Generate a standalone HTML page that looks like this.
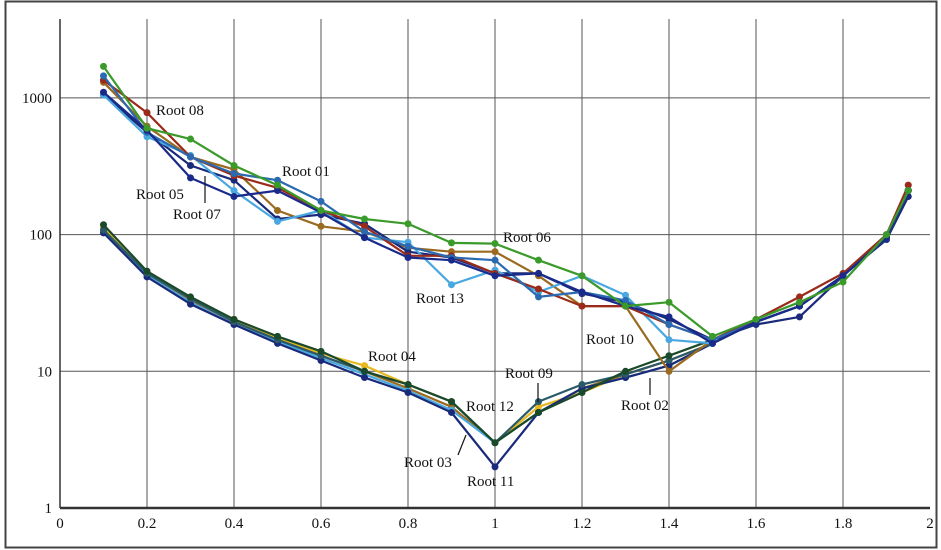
<!DOCTYPE html>
<html><head><meta charset="utf-8"><style>
html,body{margin:0;padding:0;background:#fff;width:941px;height:550px;overflow:hidden}
svg text{font-family:"Liberation Serif",serif;font-size:15px;fill:#111}
</style></head><body>
<svg id="s" width="941" height="550" xmlns="http://www.w3.org/2000/svg">
<rect x="5.5" y="1.5" width="931" height="546" fill="#fff" stroke="#444" stroke-width="2"/>
<g id="grid"></g><g id="data"></g>
<g>
<text x="282" y="176">Root 01</text>
<text x="156" y="115">Root 08</text>
<text x="136" y="199">Root 05</text>
<text x="173" y="219">Root 07</text>
<line x1="205" y1="176" x2="205" y2="203" stroke="#111" stroke-width="1.2"/>
<text x="503" y="242">Root 06</text>
<text x="416" y="303">Root 13</text>
<text x="586" y="344">Root 10</text>
<text x="368" y="361">Root 04</text>
<text x="505" y="378">Root 09</text>
<line x1="538" y1="383" x2="538" y2="402" stroke="#111" stroke-width="1.2"/>
<text x="466" y="411">Root 12</text>
<text x="621" y="410">Root 02</text>
<line x1="650" y1="378" x2="650" y2="395" stroke="#111" stroke-width="1.2"/>
<text x="404" y="467">Root 03</text>
<line x1="458" y1="455" x2="466" y2="435" stroke="#111" stroke-width="1.2"/>
<text x="467" y="486">Root 11</text>
</g>
</svg>
<script>
var NS="http://www.w3.org/2000/svg";
function X(v){return 60+v*435;}
function Y(v){return 508-136.7*Math.log10(v);}
var g=document.getElementById("grid"),d=document.getElementById("data");
function el(p,t,a){var e=document.createElementNS(NS,t);for(var k in a)e.setAttribute(k,a[k]);p.appendChild(e);return e;}
for(var i=1;i<=9;i++){var x=X(i*0.2);el(g,"line",{x1:x,y1:19,x2:x,y2:508,stroke:"#555","stroke-width":1});}
[10,100,1000].forEach(function(v){el(g,"line",{x1:60,y1:Y(v),x2:930,y2:Y(v),stroke:"#555","stroke-width":1});});
el(g,"line",{x1:60,y1:19,x2:60,y2:508,stroke:"#333","stroke-width":1.5});
el(g,"line",{x1:60,y1:508,x2:930,y2:508,stroke:"#333","stroke-width":2.5});
[["1000",1000],["100",100],["10",10],["1",1]].forEach(function(a){var t=el(g,"text",{x:52,y:Y(a[1])+5,"text-anchor":"end"});t.textContent=a[0];});
["0","0.2","0.4","0.6","0.8","1","1.2","1.4","1.6","1.8","2"].forEach(function(s,i){var t=el(g,"text",{x:X(i*0.2),y:528,"text-anchor":"middle"});t.textContent=s;});
var xs=[0.1,0.2,0.3,0.4,0.5,0.6,0.7,0.8,0.9,1.0,1.1,1.2,1.3,1.4,1.5,1.6,1.7,1.8,1.9,1.95];
var tail=[23,30,50,95,210];
var up=[
["#9a6a20",[1300,620,370,300,150,115,105,80,75,75,50,30,30,10,17]],
["#1a2a7a",[1050,560,320,250,130,140,120,75,68,52,52,37,32,24,17],[22,25,50,92,190]],
["#4aa8e0",[1050,520,380,210,125,150,95,88,43,55,38,50,36,17,16]],
["#9a2a1a",[1350,780,370,270,220,150,115,70,70,52,40,30,30,22,17],[24,35,52,100,230]],
["#2a6ab0",[1450,560,370,280,250,175,105,82,68,65,35,38,33,22,17]],
["#1a2a8a",[1100,580,260,190,210,145,95,68,65,50,52,38,30,25,16]],
["#3a9a2a",[1700,600,500,320,230,150,130,120,87,86,65,50,30,32,18],[24,32,45,100,210]]
];
var lo=[
["#e8b820",[112,52,34,24,17.5,13.5,11,8,6,3,5.5,7,9.5,12,16]],
["#9a6a20",[108,51,33,23,17,13,10,7.5,5.5,3,5,7.5,9.5,12,16]],
["#4aa8e0",[105,50,32,22,16.5,12.5,9.5,7.2,5.2,3,5,7.5,9,11,16]],
["#1a2a7a",[103,49,31,22,16,12,9,7,5,2,5,7.5,9,11,16]],
["#2a5a6a",[108,52,34,23,17,13,10,8,6,3,6,8,9.5,12,16]],
["#1a4a2a",[118,54,35,24,18,14,10,8,6,3,5,7,10,13,17]]
];
function draw(c,v,t){t=t||tail;var all=v.concat(t);var p=all.map(function(y,i){return X(xs[i]).toFixed(1)+","+Y(y).toFixed(1);}).join(" ");
el(d,"polyline",{points:p,fill:"none",stroke:c,"stroke-width":2.2,"stroke-linejoin":"round"});
all.forEach(function(y,i){el(d,"circle",{cx:X(xs[i]),cy:Y(y),r:3.5,fill:c});});}
lo.forEach(function(s){draw(s[0],s[1],s[2]);});
up.forEach(function(s){draw(s[0],s[1],s[2]);});
</script>
</body></html>
